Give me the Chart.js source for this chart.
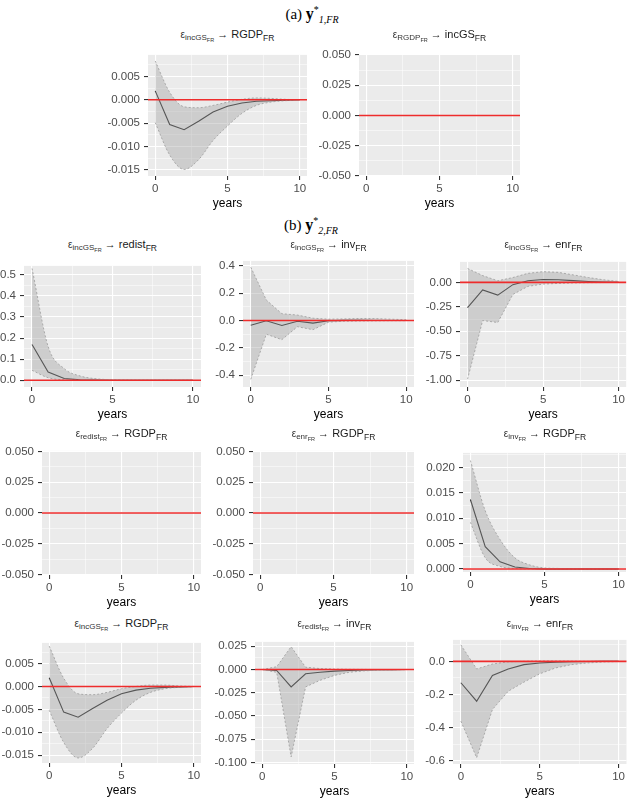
<!DOCTYPE html>
<html>
<head>
<meta charset="utf-8">
<script src="https://cdn.jsdelivr.net/npm/chart.js@4.4.0/dist/chart.umd.min.js"></script>
<style>
  body { margin: 0; width: 627px; height: 798px; position: relative; overflow: hidden; background: #fff; font-family: "Liberation Sans", Arial, sans-serif; }
  canvas { position: absolute; }
  .cap { position: absolute; font-family: "Liberation Serif", "DejaVu Serif", serif; font-size: 15px; transform: translate(-50%, -50%); white-space: nowrap; color: #000; }
  .cap b { font-size: 16px; }
  .cap sup { font-size: 10px; vertical-align: baseline; position: relative; top: -0.6em; }
  .cap sub { font-size: 10px; font-style: italic; vertical-align: baseline; position: relative; top: 0.35em; }
  .ttl { position: absolute; font-size: 11px; transform: translate(-50%, -50%); white-space: nowrap; color: #1a1a1a; }
  .ttl sub { font-size: 8.5px; vertical-align: baseline; position: relative; top: 0.3em; }
  .ttl .e { font-size: 10px; color: #333; }
  .ttl .e sub { font-size: 8px; }
  .ttl .e sub sub { font-size: 5.5px; }
</style>
</head>
<body>
<script>
// horizon
const years = [0, 1, 2, 3, 4, 5, 6, 7, 8, 9, 10];
const xTicks = [0, 5, 10];

// (a) eps incGS -> RGDP
const aIrf = [0.0019, -0.0053, -0.0064, -0.0046, -0.0026, -0.0014, -0.0007, -0.0003, -0.0002, -0.0001, 0];
const aLow = [-0.0049, -0.0118, -0.0149, -0.0128, -0.0087, -0.0056, -0.0029, -0.0012, -0.0005, -0.0002, -0.0001];
const aUp = [0.0083, 0.0016, -0.0015, -0.0017, -0.0012, -0.0005, 0.0001, 0.0004, 0.0003, 0.0001, 0];
const aTicks = [-0.015, -0.01, -0.005, 0, 0.005];

// empty panels (zero response)
const zeroTicks = [-0.05, -0.025, 0, 0.025, 0.05];

// (b) eps incGS -> redist
const redIrf = [0.169, 0.039, 0.008, 0.002, 0.0005, 0, 0, 0, 0, 0, 0];
const redLow = [0.047, 0.012, 0.002, 0.0003, 0, 0, 0, 0, 0, 0, 0];
const redUp = [0.53, 0.16, 0.055, 0.02, 0.007, 0.002, 0.0005, 0, 0, 0, 0];
const redTicks = [0, 0.1, 0.2, 0.3, 0.4, 0.5];

// (b) eps incGS -> inv
const invIrf = [-0.034, -0.002, -0.036, -0.005, -0.019, -0.002, 0.001, 0.001, 0.0005, 0, 0];
const invLow = [-0.43, -0.1, -0.14, -0.045, -0.067, -0.012, -0.005, -0.003, -0.002, -0.001, -0.001];
const invUp = [0.39, 0.15, 0.05, 0.04, 0.017, 0.01, 0.012, 0.015, 0.014, 0.01, 0.006];
const invTicks = [-0.4, -0.2, 0, 0.2, 0.4];

// (b) eps incGS -> enr
const enrIrf = [-0.257, -0.077, -0.13, -0.023, 0.017, 0.03, 0.027, 0.018, 0.01, 0.005, 0.002];
const enrLow = [-0.99, -0.39, -0.41, -0.123, -0.04, -0.017, -0.01, -0.005, -0.002, -0.001, 0];
const enrUp = [0.143, 0.07, 0.017, 0.05, 0.093, 0.11, 0.103, 0.077, 0.05, 0.027, 0.01];
const enrTicks = [-1, -0.75, -0.5, -0.25, 0];

// (b) eps inv -> RGDP
const gdpIrf = [0.0137, 0.0044, 0.0014, 0.0004, 0.0001, 0, 0, 0, 0, 0, 0];
const gdpLow = [0.0092, 0.0022, 0.0005, 0.0001, 0, 0, 0, 0, 0, 0, 0];
const gdpUp = [0.0214, 0.0115, 0.0058, 0.0022, 0.0008, 0.0002, 0.0001, 0, 0, 0, 0];
const gdpTicks = [0, 0.005, 0.01, 0.015, 0.02];

// (b) eps incGS -> RGDP
const bIrf = [0.0019, -0.0056, -0.0067, -0.0048, -0.003, -0.0016, -0.0008, -0.0004, -0.0002, -0.0001, 0];
const bLow = [-0.0052, -0.0122, -0.0156, -0.0135, -0.0092, -0.0058, -0.003, -0.0013, -0.0005, -0.0002, -0.0001];
const bUp = [0.0088, 0.0018, -0.0016, -0.0018, -0.0013, -0.0005, 0, 0.0003, 0.0003, 0.0001, 0];

// (b) eps redist -> inv
const riIrf = [0, -0.001, -0.0187, -0.0046, -0.003, -0.0017, -0.001, -0.0005, -0.0002, -0.0001, 0];
const riLow = [0, -0.003, -0.094, -0.0187, -0.0116, -0.0063, -0.003, -0.0015, -0.0007, -0.0003, -0.0001];
const riUp = [0, 0.003, 0.0246, 0.0025, 0.001, 0.0005, 0.0002, 0.0001, 0, 0, 0];
const riTicks = [-0.1, -0.075, -0.05, -0.025, 0, 0.025];

// (b) eps inv -> enr
const ieIrf = [-0.129, -0.24, -0.085, -0.046, -0.02, -0.01, -0.005, -0.002, -0.001, 0, 0];
const ieLow = [-0.36, -0.58, -0.29, -0.18, -0.125, -0.075, -0.04, -0.02, -0.01, -0.004, -0.001];
const ieUp = [0.099, -0.046, -0.016, -0.003, 0, 0.002, 0.002, 0.001, 0, 0, 0];
const ieTicks = [-0.6, -0.4, -0.2, 0];

const YW = 50, XH = 36, PT = 8;

function withMinor(major, min, max) {
  const step = (major[1] - major[0]) / 2;
  const out = [];
  for (let k = -1; k <= 2 * (major.length - 1) + 1; k++) {
    const v = +(major[0] + k * step).toFixed(8);
    if (v >= min - 1e-9 && v <= max + 1e-9) out.push(v);
  }
  return out;
}
const isMajor = (major, v) => major.some(m => Math.abs(m - v) < 1e-7);

const panelBg = {
  id: 'panelBg',
  beforeDraw(chart) {
    const { ctx, chartArea: a } = chart;
    ctx.save();
    ctx.fillStyle = '#EBEBEB';
    ctx.fillRect(a.left, a.top, a.width, a.height);
    ctx.restore();
  }
};
const zeroLine = {
  id: 'zeroLine',
  afterDatasetsDraw(chart) {
    const { ctx, chartArea: a, scales: { y } } = chart;
    const py = y.getPixelForValue(0);
    ctx.save();
    ctx.strokeStyle = '#EE2C2C';
    ctx.lineWidth = 1.6;
    ctx.beginPath();
    ctx.moveTo(a.left, py);
    ctx.lineTo(a.right, py);
    ctx.stroke();
    ctx.restore();
  }
};

function caption(html, x, y) {
  const d = document.createElement('div');
  d.className = 'cap';
  d.innerHTML = html;
  d.style.left = x + 'px'; d.style.top = y + 'px';
  document.body.appendChild(d);
}
function title(shock, resp, x, y) {
  const d = document.createElement('div');
  d.className = 'ttl';
  d.innerHTML = '<span class="e">ε<sub>' + shock + '<sub>FR</sub></sub></span> → ' + resp + '<sub>FR</sub>';
  d.style.left = x + 'px'; d.style.top = y + 'px';
  document.body.appendChild(d);
}

function panel(p) {
  const [L, T, R, B] = p.box;
  const PR = R >= 627 ? 0 : 6;
  const cv = document.createElement('canvas');
  cv.width = R - L + YW + PR;
  cv.height = B - T + PT + XH;
  cv.style.left = (L - YW) + 'px';
  cv.style.top = (T - PT) + 'px';
  document.body.appendChild(cv);
  title(p.shock, p.resp, (L + R) / 2, p.ty);

  const pts = arr => years.map((x, i) => ({ x, y: arr[i] }));
  const datasets = [];
  if (p.irf) {
    const interp = p.smooth ? 'monotone' : 'default';
    datasets.push(
      { data: pts(p.lo), borderColor: '#9C9C9C', borderWidth: 0.8, borderDash: [2, 2], fill: false, cubicInterpolationMode: interp },
      { data: pts(p.hi), borderColor: '#9C9C9C', borderWidth: 0.8, borderDash: [2, 2], fill: '-1', backgroundColor: 'rgba(165,165,165,0.42)', cubicInterpolationMode: interp },
      { data: pts(p.irf), borderColor: '#1E1E1E', borderWidth: 1.1, fill: false }
    );
  }
  const xAll = withMinor(xTicks, -0.5, 10.5);
  const yAll = withMinor(p.ticks, p.lim[0], p.lim[1]);

  new Chart(cv, {
    type: 'line',
    data: { datasets },
    options: {
      responsive: false, animation: false,
      layout: { padding: { top: PT, right: PR, left: 0, bottom: 0 } },
      plugins: { legend: { display: false }, tooltip: { enabled: false } },
      elements: { point: { radius: 0 }, line: { tension: 0 } },
      scales: {
        x: {
          type: 'linear', min: -0.5, max: 10.5,
          afterBuildTicks: s => { s.ticks = xAll.map(v => ({ value: v })); },
          afterFit: s => { s.height = XH; },
          ticks: { autoSkip: false, maxRotation: 0, padding: 2, color: '#4D4D4D', font: { size: 11.5 },
                   callback: v => isMajor(xTicks, v) ? String(v) : '' },
          grid: { color: '#FFFFFF', lineWidth: c => isMajor(xTicks, c.tick.value) ? 1.1 : 0.5,
                  tickLength: 4, tickColor: c => isMajor(xTicks, c.tick.value) ? '#333333' : 'rgba(0,0,0,0)' },
          border: { display: false },
          title: { display: true, text: 'years', color: '#000', font: { size: 12 }, padding: { top: 2, bottom: 1 } }
        },
        y: {
          type: 'linear', min: p.lim[0], max: p.lim[1],
          afterBuildTicks: s => { s.ticks = yAll.map(v => ({ value: v })); },
          afterFit: s => { s.width = YW; },
          ticks: { autoSkip: false, padding: 4, color: '#4D4D4D', font: { size: 11.5 },
                   callback: v => isMajor(p.ticks, v) ? (+v).toFixed(p.dp) : '' },
          grid: { color: '#FFFFFF', lineWidth: c => isMajor(p.ticks, c.tick.value) ? 1.1 : 0.5,
                  tickLength: 4, tickColor: c => isMajor(p.ticks, c.tick.value) ? '#333333' : 'rgba(0,0,0,0)' },
          border: { display: false }
        }
      }
    },
    plugins: [panelBg, zeroLine]
  });
}

caption('(a) <b>y</b><sup>*</sup><sub>1,FR</sub>', 312, 14);
caption('(b) <b>y</b><sup>*</sup><sub>2,FR</sub>', 311, 225);

const panels = [
  { box: [148, 52, 307, 176], ty: 34, shock: 'incGS', resp: 'RGDP', ticks: aTicks, dp: 3, lim: [-0.0163, 0.0096], irf: aIrf, lo: aLow, hi: aUp, smooth: true },
  { box: [359, 52, 520, 176], ty: 34, shock: 'RGDP', resp: 'incGS', ticks: zeroTicks, dp: 3, lim: [-0.05, 0.05] },
  { box: [24, 263, 201, 387], ty: 244, shock: 'incGS', resp: 'redist', ticks: redTicks, dp: 1, lim: [-0.032, 0.542], irf: redIrf, lo: redLow, hi: redUp, smooth: true },
  { box: [243, 258, 414, 387], ty: 244, shock: 'incGS', resp: 'inv', ticks: invTicks, dp: 1, lim: [-0.486, 0.436], irf: invIrf, lo: invLow, hi: invUp, smooth: false },
  { box: [460, 259, 627, 387], ty: 244, shock: 'incGS', resp: 'enr', ticks: enrTicks, dp: 2, lim: [-1.07, 0.21], irf: enrIrf, lo: enrLow, hi: enrUp, smooth: false },
  { box: [42, 448, 201, 575], ty: 433, shock: 'redist', resp: 'RGDP', ticks: zeroTicks, dp: 3, lim: [-0.0504, 0.0504] },
  { box: [253, 448, 414, 575], ty: 433, shock: 'enr', resp: 'RGDP', ticks: zeroTicks, dp: 3, lim: [-0.0504, 0.0504] },
  { box: [463, 450, 627, 572], ty: 433, shock: 'inv', resp: 'RGDP', ticks: gdpTicks, dp: 3, lim: [-0.0006, 0.0229], irf: gdpIrf, lo: gdpLow, hi: gdpUp, smooth: true },
  { box: [42, 640, 201, 763], ty: 623, shock: 'incGS', resp: 'RGDP', ticks: aTicks, dp: 3, lim: [-0.0167, 0.0095], irf: bIrf, lo: bLow, hi: bUp, smooth: true },
  { box: [255, 639, 414, 764], ty: 623, shock: 'redist', resp: 'inv', ticks: riTicks, dp: 3, lim: [-0.1016, 0.0297], irf: riIrf, lo: riLow, hi: riUp, smooth: false },
  { box: [453, 637, 627, 764], ty: 623, shock: 'inv', resp: 'enr', ticks: ieTicks, dp: 1, lim: [-0.618, 0.129], irf: ieIrf, lo: ieLow, hi: ieUp, smooth: false }
];
panels.forEach(panel);
</script>
</body>
</html>
